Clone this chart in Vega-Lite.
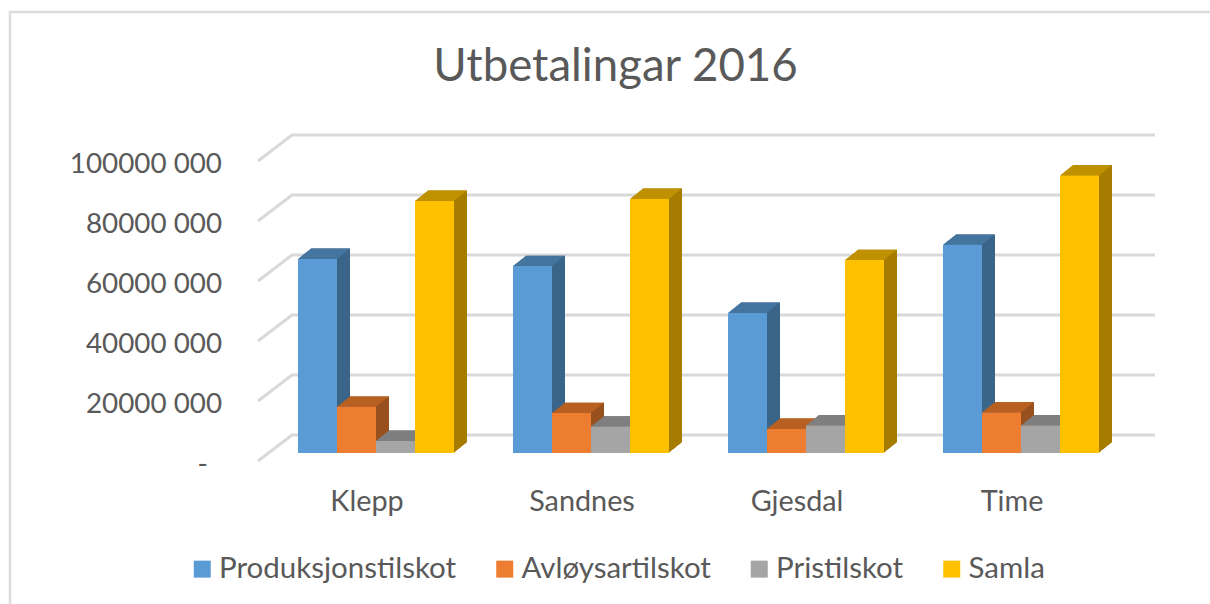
{"$schema":"https://vega.github.io/schema/vega-lite/v6.json","width":860,"height":300,"autosize":{"type":"none"},"padding":{"left":268.5,"top":161,"right":81.5,"bottom":143},"background":"white","config":{"view":{"stroke":null},"font":"Lato"},
"title":{"text":"Utbetalingar 2016","font":"Lato","fontSize":45.6,"fontWeight":"normal","color":"#595959","anchor":"middle","dx":-83,"baseline":"middle","offset":-106},
"datasets":{"rows":[
{"Kommune":"Klepp","Serie":"Produksjonstilskot","Verdi":64700000},{"Kommune":"Klepp","Serie":"Avløysartilskot","Verdi":15400000},{"Kommune":"Klepp","Serie":"Pristilskot","Verdi":4000000},{"Kommune":"Klepp","Serie":"Samla","Verdi":84000000},
{"Kommune":"Sandnes","Serie":"Produksjonstilskot","Verdi":62300000},{"Kommune":"Sandnes","Serie":"Avløysartilskot","Verdi":13300000},{"Kommune":"Sandnes","Serie":"Pristilskot","Verdi":8800000},{"Kommune":"Sandnes","Serie":"Samla","Verdi":84700000},
{"Kommune":"Gjesdal","Serie":"Produksjonstilskot","Verdi":46700000},{"Kommune":"Gjesdal","Serie":"Avløysartilskot","Verdi":8000000},{"Kommune":"Gjesdal","Serie":"Pristilskot","Verdi":9200000},{"Kommune":"Gjesdal","Serie":"Samla","Verdi":64300000},
{"Kommune":"Time","Serie":"Produksjonstilskot","Verdi":69400000},{"Kommune":"Time","Serie":"Avløysartilskot","Verdi":13500000},{"Kommune":"Time","Serie":"Pristilskot","Verdi":9200000},{"Kommune":"Time","Serie":"Samla","Verdi":92500000}]},
"data":{"name":"rows"},
"encoding":{
"x":{"field":"Kommune","type":"nominal","title":null,"scale":{"domain":["Klepp","Sandnes","Gjesdal","Time"],"paddingInner":0.2744,"paddingOuter":0.1372},"axis":{"labelAngle":0,"labelFont":"Lato","labelFontSize":28.8,"labelColor":"#595959","labelPadding":26,"labelOffset":-9,"ticks":false,"domain":false,"grid":false}},
"y":{"field":"Verdi","type":"quantitative","title":null,"scale":{"domain":[0,100000000]},"axis":{"values":[0,20000000,40000000,60000000,80000000,100000000],"labelExpr":"datum.value==0?'-\u00a0\u00a0\u200b':(datum.value/1000)+' 000'","labelFont":"Lato","labelFontSize":27.8,"labelColor":"#595959","labelPadding":47,"labelOffset":3,"ticks":false,"domain":false,"grid":false}},
"xOffset":{"field":"Serie","type":"nominal","scale":{"domain":["Produksjonstilskot","Avløysartilskot","Pristilskot","Samla"],"padding":0}}},
"resolve":{"scale":{"color":"independent","xOffset":"independent"}},
"layer":[
{"data":{"values":[{"Verdi":0}]},"mark":{"type":"point","shape":"M-288 143L-288 -449L912 -449","size":4,"filled":false,"stroke":"#dcdcdc","strokeWidth":2.5,"opacity":1},"encoding":{"x":{"datum":"Klepp"},"xOffset":{"value":0}}},
{"data":{"values":[{"Verdi":0},{"Verdi":20000000},{"Verdi":40000000},{"Verdi":60000000},{"Verdi":80000000},{"Verdi":100000000}]},"mark":{"type":"point","shape":"M-40 0L-6 -26L857 -26","size":4,"filled":false,"stroke":"#d9d9d9","strokeWidth":3,"opacity":1},"encoding":{"x":{"datum":"Klepp"},"xOffset":{"value":0}}},
{"mark":{"type":"bar","yOffset":-8.8,"y2Offset":-8.8},"encoding":{"xOffset":{"field":"Serie","type":"nominal","scale":{"domain":["Produksjonstilskot","Avløysartilskot","Pristilskot","Samla"],"padding":0,"range":[1,157]}},"color":{"field":"Serie","type":"nominal","legend":null,"scale":{"domain":["Produksjonstilskot","Avløysartilskot","Pristilskot","Samla"],"range":["#3A6488","#97501E","#6E6E6E","#A67C00"]}}}},
{"mark":{"type":"bar","yOffset":-9.6,"y2Offset":-9.6},"encoding":{"xOffset":{"field":"Serie","type":"nominal","scale":{"domain":["Produksjonstilskot","Avløysartilskot","Pristilskot","Samla"],"padding":0,"range":[2,158]}},"color":{"field":"Serie","type":"nominal","legend":null,"scale":{"domain":["Produksjonstilskot","Avløysartilskot","Pristilskot","Samla"],"range":["#3A6488","#97501E","#6E6E6E","#A67C00"]}}}},
{"mark":{"type":"bar","yOffset":-10.4,"y2Offset":-10.4},"encoding":{"xOffset":{"field":"Serie","type":"nominal","scale":{"domain":["Produksjonstilskot","Avløysartilskot","Pristilskot","Samla"],"padding":0,"range":[3,159]}},"color":{"field":"Serie","type":"nominal","legend":null,"scale":{"domain":["Produksjonstilskot","Avløysartilskot","Pristilskot","Samla"],"range":["#3A6488","#97501E","#6E6E6E","#A67C00"]}}}},
{"mark":{"type":"bar","yOffset":-11.2,"y2Offset":-11.2},"encoding":{"xOffset":{"field":"Serie","type":"nominal","scale":{"domain":["Produksjonstilskot","Avløysartilskot","Pristilskot","Samla"],"padding":0,"range":[4,160]}},"color":{"field":"Serie","type":"nominal","legend":null,"scale":{"domain":["Produksjonstilskot","Avløysartilskot","Pristilskot","Samla"],"range":["#3A6488","#97501E","#6E6E6E","#A67C00"]}}}},
{"mark":{"type":"bar","yOffset":-12,"y2Offset":-12},"encoding":{"xOffset":{"field":"Serie","type":"nominal","scale":{"domain":["Produksjonstilskot","Avløysartilskot","Pristilskot","Samla"],"padding":0,"range":[5,161]}},"color":{"field":"Serie","type":"nominal","legend":null,"scale":{"domain":["Produksjonstilskot","Avløysartilskot","Pristilskot","Samla"],"range":["#3A6488","#97501E","#6E6E6E","#A67C00"]}}}},
{"mark":{"type":"bar","yOffset":-12.8,"y2Offset":-12.8},"encoding":{"xOffset":{"field":"Serie","type":"nominal","scale":{"domain":["Produksjonstilskot","Avløysartilskot","Pristilskot","Samla"],"padding":0,"range":[6,162]}},"color":{"field":"Serie","type":"nominal","legend":null,"scale":{"domain":["Produksjonstilskot","Avløysartilskot","Pristilskot","Samla"],"range":["#3A6488","#97501E","#6E6E6E","#A67C00"]}}}},
{"mark":{"type":"bar","yOffset":-13.6,"y2Offset":-13.6},"encoding":{"xOffset":{"field":"Serie","type":"nominal","scale":{"domain":["Produksjonstilskot","Avløysartilskot","Pristilskot","Samla"],"padding":0,"range":[7,163]}},"color":{"field":"Serie","type":"nominal","legend":null,"scale":{"domain":["Produksjonstilskot","Avløysartilskot","Pristilskot","Samla"],"range":["#3A6488","#97501E","#6E6E6E","#A67C00"]}}}},
{"mark":{"type":"bar","yOffset":-14.4,"y2Offset":-14.4},"encoding":{"xOffset":{"field":"Serie","type":"nominal","scale":{"domain":["Produksjonstilskot","Avløysartilskot","Pristilskot","Samla"],"padding":0,"range":[8,164]}},"color":{"field":"Serie","type":"nominal","legend":null,"scale":{"domain":["Produksjonstilskot","Avløysartilskot","Pristilskot","Samla"],"range":["#3A6488","#97501E","#6E6E6E","#A67C00"]}}}},
{"mark":{"type":"bar","yOffset":-15.2,"y2Offset":-15.2},"encoding":{"xOffset":{"field":"Serie","type":"nominal","scale":{"domain":["Produksjonstilskot","Avløysartilskot","Pristilskot","Samla"],"padding":0,"range":[9,165]}},"color":{"field":"Serie","type":"nominal","legend":null,"scale":{"domain":["Produksjonstilskot","Avløysartilskot","Pristilskot","Samla"],"range":["#3A6488","#97501E","#6E6E6E","#A67C00"]}}}},
{"mark":{"type":"bar","yOffset":-16,"y2Offset":-16},"encoding":{"xOffset":{"field":"Serie","type":"nominal","scale":{"domain":["Produksjonstilskot","Avløysartilskot","Pristilskot","Samla"],"padding":0,"range":[10,166]}},"color":{"field":"Serie","type":"nominal","legend":null,"scale":{"domain":["Produksjonstilskot","Avløysartilskot","Pristilskot","Samla"],"range":["#3A6488","#97501E","#6E6E6E","#A67C00"]}}}},
{"mark":{"type":"bar","yOffset":-16.8,"y2Offset":-16.8},"encoding":{"xOffset":{"field":"Serie","type":"nominal","scale":{"domain":["Produksjonstilskot","Avløysartilskot","Pristilskot","Samla"],"padding":0,"range":[11,167]}},"color":{"field":"Serie","type":"nominal","legend":null,"scale":{"domain":["Produksjonstilskot","Avløysartilskot","Pristilskot","Samla"],"range":["#3A6488","#97501E","#6E6E6E","#A67C00"]}}}},
{"mark":{"type":"bar","yOffset":-17.6,"y2Offset":-17.6},"encoding":{"xOffset":{"field":"Serie","type":"nominal","scale":{"domain":["Produksjonstilskot","Avløysartilskot","Pristilskot","Samla"],"padding":0,"range":[12,168]}},"color":{"field":"Serie","type":"nominal","legend":null,"scale":{"domain":["Produksjonstilskot","Avløysartilskot","Pristilskot","Samla"],"range":["#3A6488","#97501E","#6E6E6E","#A67C00"]}}}},
{"mark":{"type":"bar","yOffset":-18.4,"y2Offset":-18.4},"encoding":{"xOffset":{"field":"Serie","type":"nominal","scale":{"domain":["Produksjonstilskot","Avløysartilskot","Pristilskot","Samla"],"padding":0,"range":[13,169]}},"color":{"field":"Serie","type":"nominal","legend":null,"scale":{"domain":["Produksjonstilskot","Avløysartilskot","Pristilskot","Samla"],"range":["#3A6488","#97501E","#6E6E6E","#A67C00"]}}}},
{"mark":{"type":"point","shape":"M-19.5 0L19.5 0L32.5 -10.4L-6.5 -10.4Z","size":4,"filled":true,"opacity":1,"yOffset":-8},"encoding":{"xOffset":{"field":"Serie","type":"nominal","scale":{"domain":["Produksjonstilskot","Avløysartilskot","Pristilskot","Samla"],"padding":0.5}},"color":{"field":"Serie","type":"nominal","legend":null,"scale":{"domain":["Produksjonstilskot","Avløysartilskot","Pristilskot","Samla"],"range":["#44759F","#B85F22","#7F7F7F","#BF9000"]}}}},
{"mark":{"type":"bar","yOffset":-8,"y2Offset":-8},"encoding":{"color":{"field":"Serie","type":"nominal","scale":{"domain":["Produksjonstilskot","Avløysartilskot","Pristilskot","Samla"],"range":["#5B9BD5","#ED7D31","#A5A5A5","#FFC000"]},"legend":{"orient":"none","legendX":-81,"legendY":393,"direction":"horizontal","columns":4,"title":null,"symbolType":"square","symbolSize":289,"symbolStrokeWidth":0,"labelFont":"Lato","labelFontSize":29.5,"labelColor":"#595959","labelOffset":2,"columnPadding":33.5,"labelLimit":400}}}}
]}
